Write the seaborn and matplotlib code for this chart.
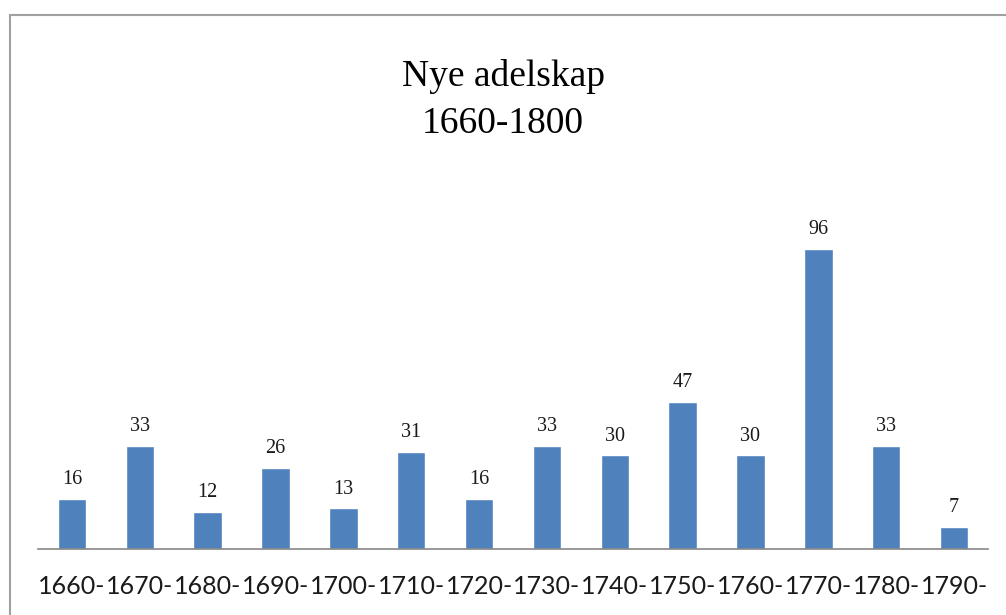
import pandas as pd
import matplotlib.pyplot as plt
import matplotlib.patches as patches
import seaborn as sns

# Data
decades = ["1660-", "1670-", "1680-", "1690-", "1700-", "1710-", "1720-",
           "1730-", "1740-", "1750-", "1760-", "1770-", "1780-", "1790-"]
counts = [16, 33, 12, 26, 13, 31, 16, 33, 30, 47, 30, 96, 33, 7]

df = pd.DataFrame({"decade": decades, "count": counts})

sns.set_style("white")
plt.rcParams['font.family'] = ['Liberation Serif', 'DejaVu Serif']

fig = plt.figure(figsize=(10.06, 6.15), dpi=100)
ax = fig.add_axes([38 / 1006, 1 - 549 / 615, 950 / 1006, 375 / 615])

sns.barplot(data=df, x="decade", y="count", color="#4F81BD", saturation=1,
            width=0.42, ax=ax)

# value labels above bars
for i, v in enumerate(counts):
    ax.annotate(str(v), (i, v), xytext=(0, 7), textcoords="offset points",
                ha="center", va="bottom", fontsize=14.5, color="#1a1a1a")

ax.set_xlim(-0.5, len(decades) - 0.5)
ax.set_ylim(0, 120)
ax.set_xlabel("")
ax.set_ylabel("")
ax.set_yticks([])
for s in ["top", "right", "left"]:
    ax.spines[s].set_visible(False)
ax.spines["bottom"].set_color("#868686")
ax.spines["bottom"].set_linewidth(1.2)
ax.tick_params(axis="x", length=0, pad=19)
for lab in ax.get_xticklabels():
    lab.set_family(["Lato", "DejaVu Sans"])
    lab.set_fontsize(18)
    lab.set_color("#1a1a1a")

# title
fig.text(0.5, 1 - 76 / 615, "Nye adelskap", ha="center", va="center",
         fontsize=27, color="black")
fig.text(0.5, 1 - 124 / 615, "1660-1800", ha="center", va="center",
         fontsize=27, color="black")

# chart frame
fig.patches.append(patches.Rectangle((10 / 1006, -0.1), 1.2, 1.1 - 15 / 615,
                                     transform=fig.transFigure, fill=False,
                                     edgecolor="#A0A0A0", linewidth=1.5))

plt.savefig("out.png", dpi=100)
